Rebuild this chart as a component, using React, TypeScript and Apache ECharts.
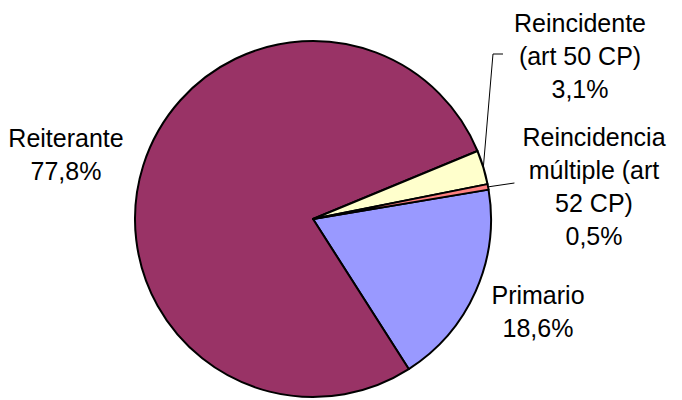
import React, { useEffect, useRef } from "react";
import * as echarts from "echarts";

const categories = [
  "Primario",
  "Reiterante",
  "Reincidente\n(art 50 CP)",
  "Reincidencia\nmúltiple (art\n52 CP)",
];
const percents = [18.6, 77.8, 3.1, 0.5];
const colors = ["#9999FF", "#993366", "#FFFFCC", "#FF8080"];
const showLeader = [false, false, true, true];

// label anchor positions (layout only)
const labelPos: [number, number][] = [
  [538, 311],
  [66, 154],
  [580, 56],
  [594, 186],
];

export default function App() {
  const ref = useRef<HTMLDivElement>(null);
  useEffect(() => {
    const chart = echarts.init(ref.current!, null, { renderer: "svg" });
    chart.setOption({
      animation: false,
      backgroundColor: "#ffffff",
      series: [
        {
          type: "pie",
          center: [313, 219],
          radius: 178,
          startAngle: 9.5,
          clockwise: true,
          avoidLabelOverlap: false,
          itemStyle: { borderColor: "#000000", borderWidth: 2 },
          label: {
            show: true,
            position: "outside",
            color: "#000000",
            fontFamily: "Liberation Sans, Arial, sans-serif",
            fontSize: 25,
            lineHeight: 33,
            align: "center",
            formatter: (p: any) =>
              p.name + "\n" + p.value.toFixed(1).replace(".", ",") + "%",
          },
          labelLine: { show: true, lineStyle: { color: "#000000", width: 1 } },
          labelLayout: (params: any) => {
            const i = params.dataIndex;
            const [x, y] = labelPos[i];
            const out: any = { x, y, align: "center", verticalAlign: "middle" };
            const pts = params.labelLinePoints;
            if (pts && pts.length) {
              const start = pts[0];
              const left = x - params.labelRect.width / 2;
              if (i === 2) {
                out.labelLinePoints = [start, [left - 21, y - 2], [left - 11, y - 2]];
              } else if (i === 3) {
                out.labelLinePoints = [start, [left - 8, y - 3]];
              }
            }
            return out;
          },
          data: categories.map((name, i) => ({
            name,
            value: percents[i],
            itemStyle: { color: colors[i] },
            labelLine: { show: showLeader[i] },
          })),
        },
      ],
    });
    return () => chart.dispose();
  }, []);
  return (
    <div
      ref={ref}
      style={{ position: "fixed", left: 0, top: 0, width: 682, height: 400 }}
    />
  );
}
